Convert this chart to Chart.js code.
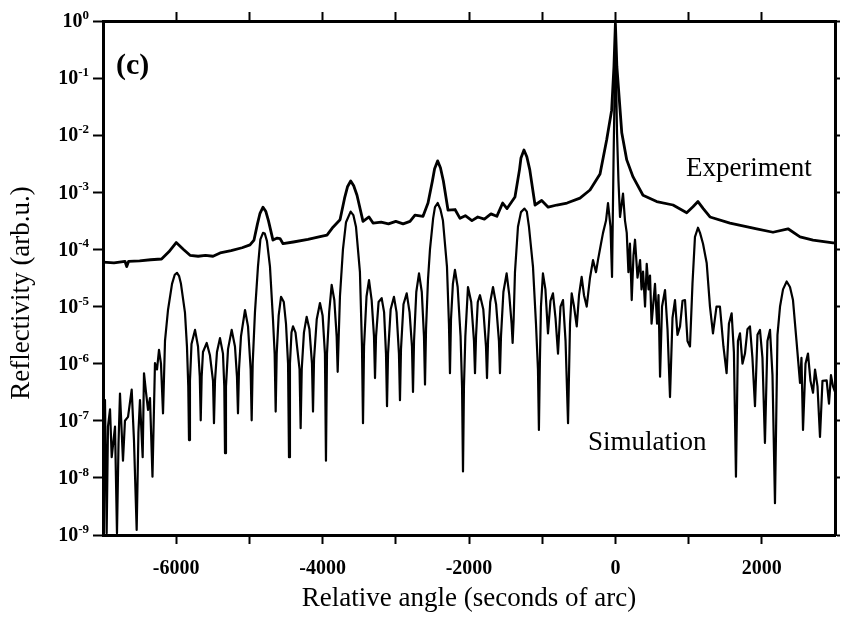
<!DOCTYPE html>
<html><head><meta charset="utf-8">
<script src="https://cdn.jsdelivr.net/npm/chart.js@4/dist/chart.umd.min.js"></script>
<style>html,body{margin:0;padding:0;background:#fff}canvas{display:block}</style>
</head><body>
<canvas id="c" width="841" height="617"></canvas>
<script>
// ---- data ----
const xTickValues = [-6000,-5000,-4000,-3000,-2000,-1000,0,1000,2000];
const xTickLabels = ['-6000','','-4000','','-2000','','0','','2000'];
const yTickValues = [1e-9,1e-8,1e-7,1e-6,1e-5,1e-4,1e-3,1e-2,1e-1,1];
const yTickExponents = ['-9','-8','-7','-6','-5','-4','-3','-2','-1','0'];

// [angle (arc sec), reflectivity]
const experimentPoints = [
[-7000,6.0e-5],[-6850,5.8e-5],[-6700,6.2e-5],[-6676,5.0e-5],[-6650,6.2e-5],[-6500,6.3e-5],[-6350,6.6e-5],[-6200,6.8e-5],[-6100,9.1e-5],[-6000,1.32e-4],
[-5900,1.0e-4],[-5811,7.9e-5],[-5700,7.6e-5],[-5600,7.9e-5],[-5497,7.6e-5],[-5400,8.7e-5],[-5250,9.5e-5],[-5100,1.07e-4],[-4992,1.2e-4],[-4937,1.46e-4],
[-4890,2.8e-4],[-4855,4.3e-4],[-4814,5.5e-4],[-4775,4.6e-4],[-4740,3.2e-4],[-4678,1.46e-4],[-4620,1.58e-4],[-4582,1.55e-4],[-4540,1.26e-4],[-4400,1.35e-4],[-4200,1.5e-4],[-4050,1.66e-4],
[-3940,1.78e-4],[-3858,2.45e-4],[-3762,3.3e-4],[-3700,7.9e-4],[-3660,1.25e-3],[-3616,1.58e-3],[-3575,1.3e-3],[-3530,8.9e-4],[-3448,3.1e-4],[-3366,3.7e-4],[-3311,2.9e-4],[-3200,3.0e-4],
[-3100,2.8e-4],[-3000,3.1e-4],[-2900,2.8e-4],[-2806,3.1e-4],[-2738,4.0e-4],[-2628,3.8e-4],[-2560,6.5e-4],[-2500,1.58e-3],[-2470,2.6e-3],[-2429,3.55e-3],[-2390,2.7e-3],[-2350,1.58e-3],
[-2287,4.9e-4],[-2191,5.0e-4],[-2123,3.5e-4],[-2050,3.9e-4],[-1960,3.2e-4],[-1880,3.7e-4],[-1790,3.4e-4],[-1700,4.2e-4],[-1620,3.8e-4],[-1540,6.5e-4],
[-1480,5.2e-4],[-1372,8.3e-4],[-1310,2.5e-3],[-1290,4.0e-3],[-1249,5.5e-3],[-1210,4.2e-3],[-1170,2.5e-3],[-1098,6.0e-4],[-1007,7.2e-4],[-918,5.5e-4],[-800,6.0e-4],[-661,6.5e-4],
[-484,7.9e-4],[-347,1.1e-3],[-210,2.1e-3],[-119,8.3e-3],[-51,2.75e-2],[-20,0.16],[0,0.9],[20,0.16],[87,1.1e-2],[155,3.7e-3],
[241,1.86e-3],[377,8.9e-4],[564,6.9e-4],[787,6.0e-4],[974,4.4e-4],[1060,5.6e-4],[1128,6.9e-4],[1200,5.2e-4],[1292,3.7e-4],[1565,2.9e-4],
[1930,2.3e-4],[2153,2.0e-4],[2358,2.3e-4],[2522,1.66e-4],[2700,1.46e-4],[2973,1.3e-4],[3000,1.3e-4]
];

const simulationPoints = [
[-7000,1.5e-7],[-6973,2.3e-7],[-6950,1.07e-9],[-6932,7.9e-8],[-6904,1.58e-7],[-6881,2.3e-8],[-6836,7.9e-8],[-6809,1.07e-9],[-6788,4.0e-8],[-6768,3.0e-7],
[-6727,2.0e-8],[-6700,1.0e-7],[-6658,1.17e-7],[-6608,3.5e-7],[-6577,4.6e-8],[-6540,1.23e-9],[-6516,6.3e-8],[-6495,2.3e-7],[-6458,2.3e-8],[-6440,6.8e-7],
[-6413,3.2e-7],[-6385,1.55e-7],[-6358,2.5e-7],[-6324,1.05e-8],[-6290,1.02e-6],[-6262,7.9e-7],[-6235,1.74e-6],[-6208,1.0e-6],[-6180,1.35e-7],[-6153,2.5e-6],
[-6112,8.7e-6],[-6057,2.5e-5],[-6020,3.6e-5],[-5989,3.9e-5],[-5960,3.4e-5],[-5935,2.5e-5],[-5880,7.8e-6],[-5853,2.0e-6],[-5835,4.0e-7],[-5825,4.6e-8],[-5812,5.0e-7],[-5791,2.2e-6],
[-5743,3.9e-6],[-5702,2.0e-6],[-5678,6.0e-7],[-5665,1.02e-7],[-5652,6.0e-7],[-5634,1.6e-6],[-5583,2.3e-6],[-5539,1.4e-6],[-5497,5.0e-7],[-5484,9.1e-8],
[-5470,5.0e-7],[-5443,1.6e-6],[-5402,2.8e-6],[-5361,1.5e-6],[-5343,4.0e-7],[-5333,2.7e-8],[-5320,4.0e-7],[-5292,1.8e-6],[-5242,3.9e-6],[-5197,2.0e-6],
[-5170,6.0e-7],[-5156,1.35e-7],[-5142,8.0e-7],[-5115,3.0e-6],[-5060,8.7e-6],[-5019,4.5e-6],[-4983,8.0e-7],[-4969,1.02e-7],[-4955,1.0e-6],[-4924,8.0e-6],
[-4883,5.0e-5],[-4850,1.5e-4],[-4814,1.95e-4],[-4790,1.9e-4],[-4760,1.4e-4],[-4719,5.0e-5],[-4678,6.0e-6],[-4655,1.5e-6],[-4641,1.45e-7],[-4627,1.5e-6],
[-4600,7.0e-6],[-4568,1.48e-5],[-4530,1.2e-5],[-4500,5.0e-6],[-4472,1.0e-6],[-4459,2.3e-8],[-4446,1.0e-6],[-4425,3.5e-6],[-4404,4.5e-6],[-4370,3.5e-6],
[-4315,8.0e-7],[-4300,7.4e-8],[-4285,8.0e-7],[-4255,3.5e-6],[-4218,6.6e-6],[-4180,4.0e-6],[-4145,1.0e-6],[-4131,1.45e-7],[-4117,1.2e-6],[-4080,6.0e-6],
[-4036,1.15e-5],[-4000,7.0e-6],[-3968,1.5e-6],[-3954,2.0e-8],[-3940,1.5e-6],[-3910,8.0e-6],[-3876,2.4e-5],[-3840,1.3e-5],[-3808,3.0e-6],[-3794,7.2e-7],
[-3780,3.0e-6],[-3763,1.5e-5],[-3722,1.0e-4],[-3680,3.0e-4],[-3617,4.6e-4],[-3580,4.0e-4],[-3544,2.5e-4],[-3490,4.0e-5],[-3462,2.0e-6],[-3448,9.1e-8],
[-3434,2.0e-6],[-3400,1.5e-5],[-3366,2.9e-5],[-3330,1.3e-5],[-3298,3.0e-6],[-3284,5.6e-7],[-3270,3.0e-6],[-3235,1.2e-5],[-3193,1.4e-5],[-3160,8.0e-6],
[-3134,1.5e-6],[-3120,1.8e-7],[-3106,1.5e-6],[-3070,9.0e-6],[-3025,1.48e-5],[-2990,8.0e-6],[-2957,1.5e-6],[-2943,2.3e-7],[-2929,1.8e-6],[-2895,1.1e-5],
[-2851,1.7e-5],[-2812,8.0e-6],[-2779,2.0e-6],[-2765,3.2e-7],[-2751,2.5e-6],[-2720,1.8e-5],[-2683,3.8e-5],[-2645,1.8e-5],[-2615,3.0e-6],[-2601,4.3e-7],
[-2587,4.0e-6],[-2560,3.0e-5],[-2533,1.0e-4],[-2490,3.5e-4],[-2465,5.5e-4],[-2428,6.5e-4],[-2390,5.0e-4],[-2356,3.2e-4],[-2301,5.0e-5],[-2274,5.0e-6],
[-2260,6.8e-7],[-2246,6.0e-6],[-2220,2.5e-5],[-2192,4.4e-5],[-2155,2.2e-5],[-2115,3.0e-6],[-2095,4.0e-7],[-2082,1.3e-8],[-2069,4.0e-7],[-2050,3.0e-6],
[-2014,2.2e-5],[-1970,1.2e-5],[-1932,2.5e-6],[-1918,6.8e-7],[-1904,3.0e-6],[-1880,1.2e-5],[-1850,1.58e-5],[-1805,9.0e-6],[-1768,2.0e-6],[-1754,5.6e-7],
[-1740,2.5e-6],[-1710,1.2e-5],[-1672,2.2e-5],[-1630,1.1e-5],[-1591,2.5e-6],[-1577,6.8e-7],[-1563,3.0e-6],[-1530,1.8e-5],[-1486,3.8e-5],[-1450,1.6e-5],
[-1418,5.0e-6],[-1404,2.3e-6],[-1390,6.0e-6],[-1372,4.0e-5],[-1331,2.5e-4],[-1290,4.5e-4],[-1242,5.2e-4],[-1210,4.6e-4],[-1181,2.5e-4],[-1126,5.0e-5],
[-1085,5.0e-6],[-1058,8.0e-7],[-1045,6.9e-8],[-1032,1.0e-6],[-1017,1.0e-5],[-990,3.8e-5],[-956,2.0e-5],[-921,3.4e-6],[-887,1.26e-5],[-853,1.7e-5],
[-818,6.3e-6],[-784,1.5e-6],[-750,1.0e-5],[-716,1.3e-5],[-681,2.5e-6],[-647,9.1e-8],[-620,5.0e-6],[-597,1.7e-5],[-565,1.0e-5],[-528,4.5e-6],
[-497,1.58e-5],[-461,3.3e-5],[-429,1.58e-5],[-392,1.0e-5],[-347,3.2e-5],[-306,6.5e-5],[-265,4.0e-5],[-238,6.5e-5],[-197,1.26e-4],[-169,1.95e-4],
[-128,3.2e-4],[-101,6.5e-4],[-67,2.5e-4],[-46,3.3e-5],[-26,3.2e-3],[0,0.5],[22,1.1e-2],[42,1.58e-3],[63,3.7e-4],[104,9.5e-4],
[131,3.2e-4],[155,1.95e-4],[178,4.0e-5],[199,1.26e-4],[223,1.3e-5],[247,7.9e-5],[268,1.48e-4],[302,3.2e-5],[337,6.5e-5],[357,2.0e-5],
[378,4.1e-5],[405,1.0e-5],[428,5.6e-5],[453,2.0e-5],[473,3.5e-5],[494,5.0e-6],[514,1.0e-5],[541,2.5e-5],[569,5.0e-6],[589,1.58e-5],
[610,5.9e-7],[637,1.0e-5],[678,1.95e-5],[712,4.0e-6],[746,2.6e-7],[780,6.3e-6],[814,1.3e-5],[848,3.2e-6],[883,4.5e-6],[917,1.26e-5],
[951,1.3e-5],[985,2.5e-6],[1019,2.0e-6],[1053,2.5e-5],[1087,1.66e-4],[1128,2.4e-4],[1156,1.95e-4],[1197,1.26e-4],[1247,5.8e-5],[1292,1.0e-5],
[1333,3.4e-6],[1381,1.0e-5],[1428,1.0e-5],[1476,2.0e-6],[1519,6.8e-7],[1551,5.0e-6],[1588,7.6e-6],[1619,1.58e-6],[1647,1.05e-8],[1674,2.5e-6],
[1702,3.4e-6],[1736,1.0e-6],[1770,1.5e-6],[1804,4.0e-6],[1838,4.5e-6],[1872,1.26e-6],[1907,1.8e-7],[1941,3.2e-6],[1975,3.9e-6],[2009,1.26e-6],
[2043,4.1e-8],[2077,2.5e-6],[2112,3.9e-6],[2146,6.3e-7],[2180,3.6e-9],[2214,3.2e-6],[2249,1.0e-5],[2290,2.0e-5],[2340,2.75e-5],[2385,2.2e-5],
[2426,1.3e-5],[2474,2.5e-6],[2522,4.6e-7],[2542,1.26e-6],[2563,6.9e-8],[2597,1.0e-6],[2631,1.5e-6],[2665,5.0e-7],[2700,3.1e-7],[2727,7.9e-7],
[2761,4.0e-7],[2795,5.2e-8],[2829,5.0e-7],[2886,5.1e-7],[2918,2.0e-7],[2945,6.3e-7],[2973,4.0e-7],[3000,3.2e-7]
];

// text notes anchored in data coordinates
const notes = [
  {text:'(c)', angle:-6822, value:0.118, bold:true, size:30},
  {text:'Experiment', angle:963, value:1.93e-3, bold:false, size:27},
  {text:'Simulation', angle:-375, value:3.07e-8, bold:false, size:27}
];
const xTitle = 'Relative angle (seconds of arc)';
const yTitle = 'Reflectivity (arb.u.)';

// ---- chart ----
const SERIF = '"Liberation Serif", "Times New Roman", serif';

const overlay = {
  id: 'overlay',
  afterDraw(chart) {
    const {ctx, scales, chartArea} = chart;
    const x = scales.x, y = scales.y;
    ctx.save();
    ctx.fillStyle = '#000';
    // y tick labels 10^n
    yTickValues.forEach((v, i) => {
      const py = y.getPixelForValue(v);
      const right = y.right - 14;
      const ex = yTickExponents[i];
      ctx.font = 'bold 13px ' + SERIF;
      ctx.textAlign = 'right';
      ctx.textBaseline = 'alphabetic';
      const w = ctx.measureText(ex).width;
      ctx.fillText(ex, right, py - 2);
      ctx.font = 'bold 20px ' + SERIF;
      ctx.textBaseline = 'middle';
      ctx.fillText('10', right - w, py + 1);
    });
    // y title
    ctx.save();
    ctx.translate(22, (chartArea.top + chartArea.bottom) / 2 + 15);
    ctx.rotate(-Math.PI / 2);
    ctx.font = '27px ' + SERIF;
    ctx.textAlign = 'center';
    ctx.textBaseline = 'middle';
    ctx.fillText(yTitle, 0, 0);
    ctx.restore();
    // notes
    notes.forEach(n => {
      ctx.font = (n.bold ? 'bold ' : '') + n.size + 'px ' + SERIF;
      ctx.textAlign = 'left';
      ctx.textBaseline = 'alphabetic';
      ctx.fillText(n.text, x.getPixelForValue(n.angle), y.getPixelForValue(n.value));
    });
    ctx.restore();
  }
};

const setXTicks = s => { s.ticks = xTickValues.map(v => ({value: v})); };
const setYTicks = s => { s.ticks = yTickValues.map(v => ({value: v})); };
const axisGrid = len => ({drawOnChartArea: false, drawTicks: true, tickLength: len, tickColor: '#000', tickWidth: 2, color: '#000'});
const axisBorder = {display: true, color: '#000', width: 3};

new Chart(document.getElementById('c'), {
  type: 'line',
  data: {
    datasets: [
      {label: 'Experiment', data: experimentPoints.map(p => ({x: p[0], y: p[1]})),
       borderColor: '#000', borderWidth: 2.8, pointRadius: 0, tension: 0, borderJoinStyle: 'round', borderCapStyle: 'round', fill: false},
      {label: 'Simulation', data: simulationPoints.map(p => ({x: p[0], y: p[1]})),
       borderColor: '#000', borderWidth: 2.2, pointRadius: 0, tension: 0, borderJoinStyle: 'round', borderCapStyle: 'round', fill: false}
    ]
  },
  options: {
    responsive: false,
    animation: false,
    devicePixelRatio: 1,
    events: [],
    layout: {padding: 0},
    plugins: {legend: {display: false}, tooltip: {enabled: false}},
    scales: {
      x: {
        type: 'linear', position: 'bottom', min: -7000, max: 3000,
        afterBuildTicks: setXTicks,
        ticks: {
          autoSkip: false, maxRotation: 0, padding: 13, color: '#000',
          font: {family: SERIF, size: 20, weight: 'bold'},
          callback: (v) => { const i = xTickValues.indexOf(v); return i >= 0 ? xTickLabels[i] : ''; }
        },
        grid: axisGrid(9), border: axisBorder,
        title: {display: true, text: xTitle, color: '#000', font: {family: SERIF, size: 27}, padding: {top: 0, bottom: 2}},
        afterFit: s => { s.height = 82; }
      },
      x2: {
        type: 'linear', position: 'top', min: -7000, max: 3000,
        afterBuildTicks: setXTicks,
        ticks: {display: false},
        grid: axisGrid(9), border: axisBorder,
        afterFit: s => { s.height = 21; }
      },
      y: {
        type: 'logarithmic', position: 'left', min: 1e-9, max: 1,
        afterBuildTicks: setYTicks,
        ticks: {display: false},
        grid: axisGrid(10), border: axisBorder,
        afterFit: s => { s.width = 103; }
      },
      y2: {
        type: 'logarithmic', position: 'right', min: 1e-9, max: 1,
        afterBuildTicks: setYTicks,
        ticks: {display: false},
        grid: axisGrid(5), border: axisBorder,
        afterFit: s => { s.width = 6; }
      }
    }
  },
  plugins: [overlay]
});
</script>
</body></html>
